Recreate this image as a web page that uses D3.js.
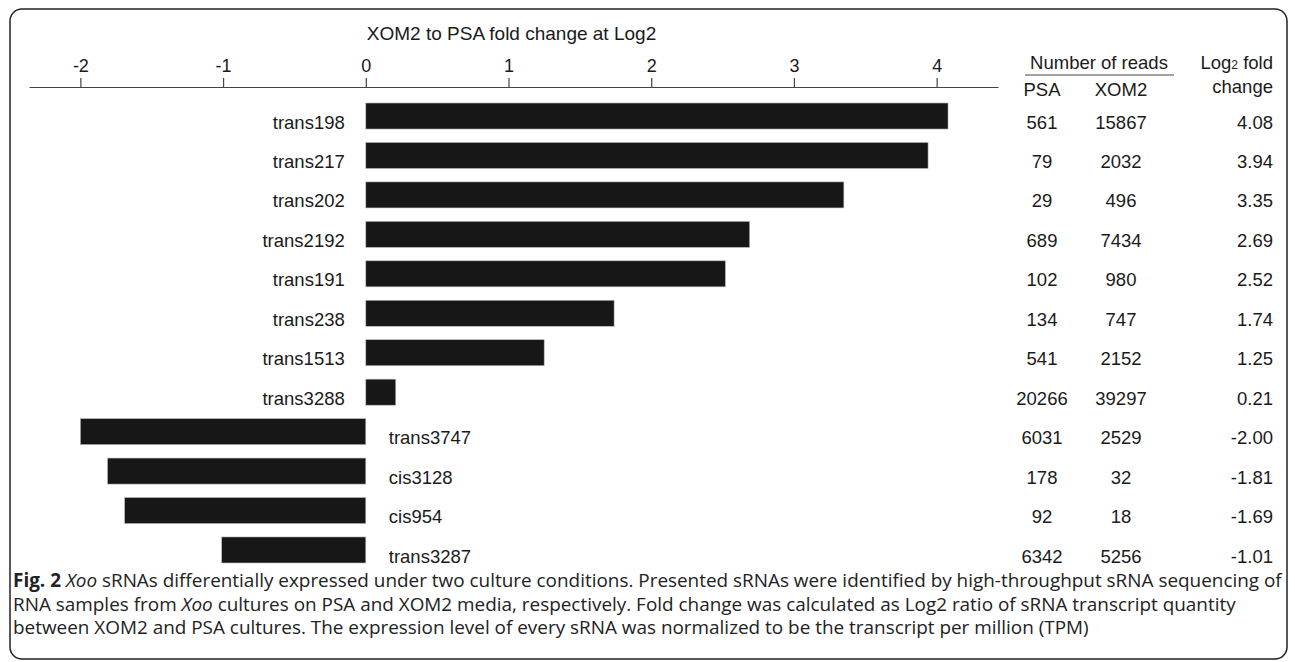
<!DOCTYPE html>
<html>
<head>
<meta charset="utf-8">
<script src="https://cdn.jsdelivr.net/npm/d3@7"></script>
<style>
  html, body { margin: 0; padding: 0; background: #fff; }
  svg { display: block; }
  .lbl { font-family: "Liberation Sans", Arial, sans-serif; fill: #1a1a1a; }
  .cap { font-family: "Open Sans", sans-serif; fill: #222; }
</style>
</head>
<body>
<svg id="chart" width="1295" height="662"></svg>
<script>
// sRNA names, top to bottom
const names = ["trans198", "trans217", "trans202", "trans2192", "trans191", "trans238",
               "trans1513", "trans3288", "trans3747", "cis3128", "cis954", "trans3287"];
// Read counts on each medium
const psaReads  = [561, 79, 29, 689, 102, 134, 541, 20266, 6031, 178, 92, 6342];
const xom2Reads = [15867, 2032, 496, 7434, 980, 747, 2152, 39297, 2529, 32, 18, 5256];
// Log2 fold change XOM2 / PSA
const log2Fold  = [4.08, 3.94, 3.35, 2.69, 2.52, 1.74, 1.25, 0.21, -2.00, -1.81, -1.69, -1.01];
// Axis ticks
const axisTicks = [-2, -1, 0, 1, 2, 3, 4];

const rows = names.map((n, i) => ({ name: n, psa: psaReads[i], xom2: xom2Reads[i], fc: log2Fold[i] }));

const svg = d3.select("#chart");

// Rounded frame around figure and caption
svg.append("rect")
  .attr("x", 10).attr("y", 9)
  .attr("width", 1277).attr("height", 650)
  .attr("rx", 12).attr("ry", 12)
  .attr("fill", "none").attr("stroke", "#222").attr("stroke-width", 1.5);

const x = d3.scaleLinear().domain([-2.36, 4.43]).range([29, 998]);
const y = d3.scaleBand().domain(names).range([103, 563]).paddingInner(0.34).paddingOuter(0);

// Axis on top
const axisY = 87;
const axisG = svg.append("g")
  .attr("transform", `translate(0,${axisY})`)
  .call(d3.axisTop(x).tickValues(axisTicks).tickSize(9).tickSizeOuter(0).tickPadding(6)
        .tickFormat(d => String(d)));
axisG.select(".domain").attr("stroke", "#444").attr("stroke-width", 1.2);
axisG.selectAll(".tick line").attr("stroke", "#444").attr("stroke-width", 1.2);
axisG.selectAll(".tick text")
  .attr("class", "lbl")
  .style("font-family", "'Liberation Sans', Arial, sans-serif")
  .style("font-size", "18px").attr("fill", "#1a1a1a");

svg.append("text").attr("class", "lbl")
  .attr("x", x(0) + 1).attr("y", 40)
  .style("font-size", "19px")
  .text("XOM2 to PSA fold change at Log2");

// Bars
svg.append("g").selectAll("rect")
  .data(rows).join("rect")
  .attr("x", d => x(Math.min(0, d.fc)))
  .attr("width", d => Math.abs(x(d.fc) - x(0)))
  .attr("y", d => y(d.name))
  .attr("height", y.bandwidth())
  .attr("fill", "#171717")
  .attr("stroke", "#bbb").attr("stroke-width", 0.6);

// Row labels: left of zero for up-regulated, right of zero for down-regulated
svg.append("g").selectAll("text")
  .data(rows).join("text")
  .attr("class", "lbl")
  .style("font-size", "18.5px")
  .attr("x", d => d.fc >= 0 ? x(0) - 21 : x(0) + 23)
  .attr("y", d => y(d.name) + y.bandwidth() - 0.5)
  .attr("text-anchor", d => d.fc >= 0 ? "end" : "start")
  .text(d => d.name);

// Table of read counts and fold change
const colPSA = 1042, colXOM = 1121, colFC = 1273;
const tbl = svg.append("g");
const rowText = (xPos, anchor, acc) => tbl.append("g").selectAll("text")
  .data(rows).join("text")
  .attr("class", "lbl")
  .style("font-size", "18.5px")
  .attr("x", xPos)
  .attr("y", d => y(d.name) + y.bandwidth() - 0.5)
  .attr("text-anchor", anchor)
  .text(acc);
rowText(colPSA, "middle", d => d.psa);
rowText(colXOM, "middle", d => d.xom2);
rowText(colFC, "end", d => d.fc.toFixed(2));

// Table headers
tbl.append("text").attr("class", "lbl").style("font-size", "18.5px")
  .attr("x", 1099).attr("y", 69).attr("text-anchor", "middle").text("Number of reads");
tbl.append("line").attr("x1", 1025).attr("x2", 1174).attr("y1", 75).attr("y2", 75)
  .attr("stroke", "#444").attr("stroke-width", 1.2);
tbl.append("text").attr("class", "lbl").style("font-size", "18.5px")
  .attr("x", colPSA).attr("y", 96).attr("text-anchor", "middle").text("PSA");
tbl.append("text").attr("class", "lbl").style("font-size", "18.5px")
  .attr("x", colXOM).attr("y", 96).attr("text-anchor", "middle").text("XOM2");
const fcHead = tbl.append("text").attr("class", "lbl").style("font-size", "18.5px")
  .attr("x", colFC).attr("y", 69).attr("text-anchor", "end");
fcHead.append("tspan").text("Log");
fcHead.append("tspan").style("font-size", "12px").text("2");
fcHead.append("tspan").text(" fold");
tbl.append("text").attr("class", "lbl").style("font-size", "18.5px")
  .attr("x", colFC).attr("y", 93).attr("text-anchor", "end").text("change");

// Caption
const captionLines = [
  [["Fig. 2", "bold"], [" ", ""], ["Xoo", "italic"], [" sRNAs differentially expressed under two culture conditions. Presented sRNAs were identified by high-throughput sRNA sequencing of", ""]],
  [["RNA samples from ", ""], ["Xoo", "italic"], [" cultures on PSA and XOM2 media, respectively. Fold change was calculated as Log2 ratio of sRNA transcript quantity", ""]],
  [["between XOM2 and PSA cultures. The expression level of every sRNA was normalized to be the transcript per million (TPM)", ""]]
];
const capG = svg.append("g");
const capTexts = captionLines.map((parts, i) => {
  const t = capG.append("text").attr("class", "cap")
    .attr("x", 13).attr("y", 587 + i * 23.5)
    .style("font-size", "16px");
  parts.forEach(([s, st]) => {
    const ts = t.append("tspan").text(s);
    if (st === "bold") ts.style("font-weight", "bold");
    if (st === "italic") ts.style("font-style", "italic");
  });
  return t;
});
// Size caption so the first line spans the frame width
const w0 = capTexts[0].node().getComputedTextLength();
const fs = 16 * 1270 / w0;
capTexts.forEach(t => t.style("font-size", fs + "px"));
</script>
</body>
</html>
